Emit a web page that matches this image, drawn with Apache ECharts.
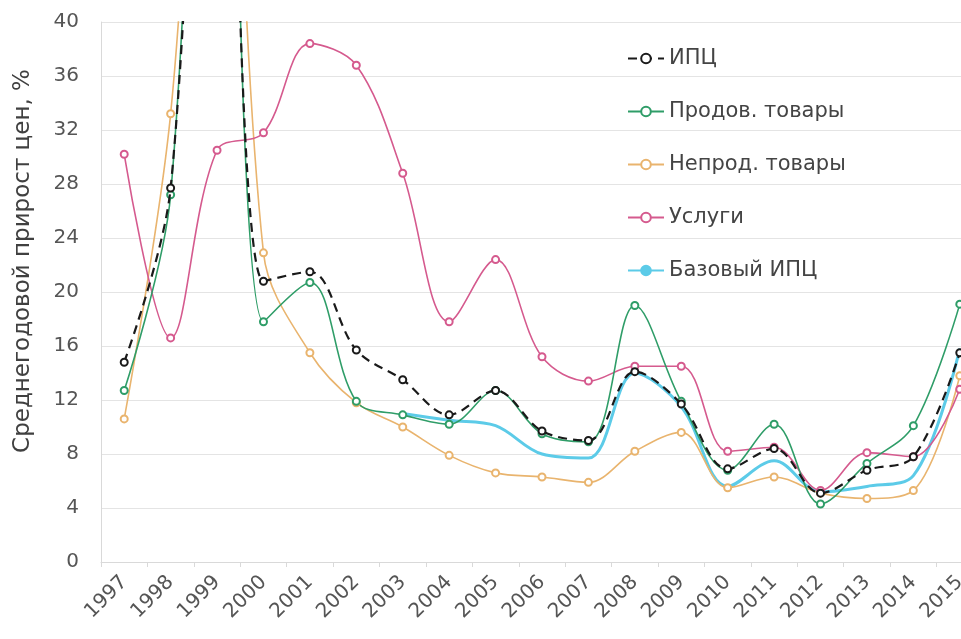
<!DOCTYPE html>
<html><head><meta charset="utf-8">
<script src="https://cdn.jsdelivr.net/npm/echarts@6/dist/echarts.min.js"></script>
<style>html,body{margin:0;padding:0;background:#fff;overflow:hidden}#c{width:983px;height:639px}</style>
</head><body><div id="c"></div>
<script>
var years = ['1997','1998','1999','2000','2001','2002','2003','2004','2005','2006','2007','2008','2009','2010','2011','2012','2013','2014','2015'];
var yTicks = [0,4,8,12,16,20,24,28,32,36,40];
var cpi      = [14.8, 27.7, 85.7, 20.8, 21.5, 15.7, 13.5, 10.9, 12.7, 9.7, 9.0, 14.1, 11.7, 6.9, 8.4, 5.1, 6.8, 7.8, 15.5];
var food     = [12.7, 27.2, 93.0, 17.8, 20.7, 11.9, 10.9, 10.2, 12.7, 9.5, 8.9, 19.0, 11.9, 6.8, 10.2, 4.3, 7.3, 10.1, 19.1];
var nonfood  = [10.6, 33.2, 80.0, 22.9, 15.5, 11.8, 10.0, 7.9, 6.6, 6.3, 5.9, 8.2, 9.6, 5.5, 6.3, 5.1, 4.7, 5.3, 13.8];
var services = [30.2, 16.6, 30.5, 31.8, 38.4, 36.8, 28.8, 17.8, 22.4, 15.2, 13.4, 14.5, 14.5, 8.2, 8.5, 5.3, 8.1, 7.8, 12.8];
var coreCpi  = [null, null, null, null, null, null, 11.0, 10.5, 10.1, 8.0, 7.7, 14.0, 11.5, 5.6, 7.5, 5.2, 5.6, 6.4, 15.8];
var names = ['ИПЦ','Продов. товары','Непрод. товары','Услуги','Базовый ИПЦ'];

var font = 'DejaVu Sans';
function mk(name, data, color, extra) {
  var s = {
    name: name, type: 'line', data: data, smooth: 0.35,
    symbol: 'emptyCircle', symbolSize: 7, showSymbol: true,
    connectNulls: false, clip: true,
    lineStyle: {color: color, width: 1.6},
    itemStyle: {color: color, borderColor: color, borderWidth: 1.4},
    emphasis: {disabled: true}, z: 3
  };
  for (var k in extra) s[k] = extra[k];
  return s;
}
var chart = echarts.init(document.getElementById('c'), null, {renderer: 'canvas'});
chart.setOption({
  animation: false,
  backgroundColor: '#fff',
  grid: {left: 101, right: 0, top: 22, bottom: 77, containLabel: false},
  legend: {
    orient: 'vertical', left: 622, top: 43, itemGap: 32,
    itemWidth: 36, itemHeight: 12,
    textStyle: {fontFamily: font, fontSize: 21, color: '#444'},
    data: names
  },
  xAxis: {
    type: 'category', data: years, boundaryGap: true,
    axisLine: {show: true, lineStyle: {color: '#d9d9d9'}},
    axisTick: {show: true, alignWithLabel: false, lineStyle: {color: '#d9d9d9'}},
    axisLabel: {rotate: 45, interval: 0, fontFamily: font, fontSize: 20, color: '#555', margin: 17},
    splitLine: {show: false}
  },
  yAxis: {
    type: 'value', min: 0, max: 40, interval: 4,
    name: 'Среднегодовой прирост цен, %', nameLocation: 'middle', nameGap: 66,
    nameTextStyle: {fontFamily: font, fontSize: 23, color: '#404040', padding: [0, 0, 0, 62]},
    axisLine: {show: true, lineStyle: {color: '#d9d9d9'}},
    axisTick: {show: false},
    axisLabel: {fontFamily: font, fontSize: 20, color: '#555', margin: 22},
    splitLine: {lineStyle: {color: '#e4e4e4', width: 1.2}}
  },
  series: [
    mk(names[4], coreCpi, '#5ccbe8', {symbol: 'none', showSymbol: false, lineStyle: {color: '#5ccbe8', width: 3}, z: 2}),
    mk(names[2], nonfood, '#e9b46e'),
    mk(names[3], services, '#d55a8e'),
    mk(names[1], food, '#2f9d68'),
    mk(names[0], cpi, '#1a1a1a', {lineStyle: {color: '#1a1a1a', width: 2.2, type: [9, 6]}, z: 4})
  ]
});
</script></body></html>
